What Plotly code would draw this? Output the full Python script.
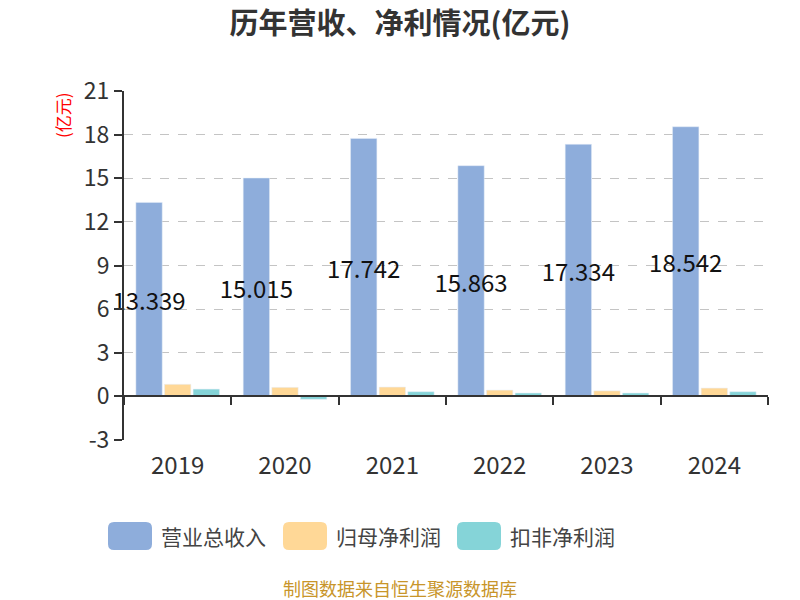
import plotly.graph_objects as go

years = ["2019", "2020", "2021", "2022", "2023", "2024"]
revenue = [13.339, 15.015, 17.742, 15.863, 17.334, 18.542]
net_profit = [0.83, 0.62, 0.64, 0.43, 0.38, 0.57]
deducted_profit = [0.50, -0.20, 0.32, 0.23, 0.23, 0.32]
series_names = ["营业总收入", "归母净利润", "扣非净利润"]
colors = ["#8EADDB", "#FFD897", "#85D4D8"]
y_ticks = [-3, 0, 3, 6, 9, 12, 15, 18, 21]

FONT = "Noto Sans CJK SC"

fig = go.Figure()
fig.add_trace(go.Bar(
    x=years, y=revenue, name=series_names[0], marker_color=colors[0],
    text=[f"{v:.3f}" for v in revenue], textposition="inside",
    insidetextanchor="middle", textangle=0, constraintext="none",
    textfont=dict(size=24, color="#111", family=FONT),
    cliponaxis=False, showlegend=False,
))
fig.add_trace(go.Bar(x=years, y=net_profit, name=series_names[1],
                     marker_color=colors[1], showlegend=False))
fig.add_trace(go.Bar(x=years, y=deducted_profit, name=series_names[2],
                     marker_color=colors[2], showlegend=False))

W, H = 800, 600
L, R, T, B = 124, 32, 91, 160
pw, ph = W - L - R, H - T - B
ymin, ymax = y_ticks[0], y_ticks[-1]


def px(xp):
    return (xp - L) / pw


def py(yp):
    return (H - B - yp) / ph


fig.update_layout(
    width=W, height=H,
    margin=dict(l=L, r=R, t=T, b=B, autoexpand=False),
    paper_bgcolor="white", plot_bgcolor="white",
    font=dict(family=FONT, color="#333"),
    title=dict(text="<b>历年营收、净利情况(亿元)</b>", x=px(400), xref="paper",
               xanchor="center", y=1 - 24 / H, yanchor="middle",
               font=dict(size=29, color="#333", family=FONT)),
    barmode="group", bargap=0.2, bargroupgap=0.08,
    showlegend=False,
)
fig.layout["xaxis"].update(
    type="category", anchor="free", position=(0 - ymin) / (ymax - ymin),
    showline=True, linecolor="#333", linewidth=2,
    ticks="outside", ticklen=8, tickwidth=2, tickcolor="#333",
    tickson="boundaries", ticklabelstandoff=48,
    tickfont=dict(size=24, color="#333"), showgrid=False, zeroline=False,
)
fig.update_yaxes(
    range=[ymin, ymax], tickvals=y_ticks, ticktext=[str(v) for v in y_ticks],
    showline=True, linecolor="#333", linewidth=2,
    ticks="outside", ticklen=8, tickwidth=2, tickcolor="#333",
    tickfont=dict(size=23, color="#333"),
    showgrid=True, gridcolor="#c4c4c4", griddash="dash", gridwidth=1.3,
    zeroline=False,
)

annotations = [
    dict(text="(亿元)", textangle=-90, x=px(63), y=py(115), xref="paper", yref="paper",
         xanchor="center", yanchor="middle",
         showarrow=False, font=dict(size=17, color="red", family=FONT)),
    dict(text="制图数据来自恒生聚源数据库", x=px(400), y=py(588), xref="paper", yref="paper",
         xanchor="center", yanchor="middle", borderpad=0,
         showarrow=False, font=dict(size=18, color="#C8952A", family=FONT)),
]

shapes = []
legend_left = [108, 283, 457]
for name, col, lx in zip(series_names, colors, legend_left):
    w, h, r = 44, 28, 6
    path = (f"M {r},0 L {w - r},0 Q {w},0 {w},{r} L {w},{h - r} Q {w},{h} {w - r},{h} "
            f"L {r},{h} Q 0,{h} 0,{h - r} L 0,{r} Q 0,0 {r},0 Z")
    shapes.append(dict(type="path", xref="paper", yref="paper",
                       xsizemode="pixel", ysizemode="pixel",
                       xanchor=px(lx), yanchor=py(550), path=path,
                       fillcolor=col, line=dict(width=0)))
    annotations.append(dict(text=name, x=px(lx + 51), y=py(536), xref="paper", yref="paper",
                            xanchor="left", yanchor="middle", showarrow=False,
                            font=dict(size=21, color="#444", family=FONT)))

fig.update_layout(annotations=annotations, shapes=shapes)
fig.write_html("out.html", config={"displayModeBar": False},
               post_script="document.body.style.margin='0';document.body.style.overflow='hidden';")
